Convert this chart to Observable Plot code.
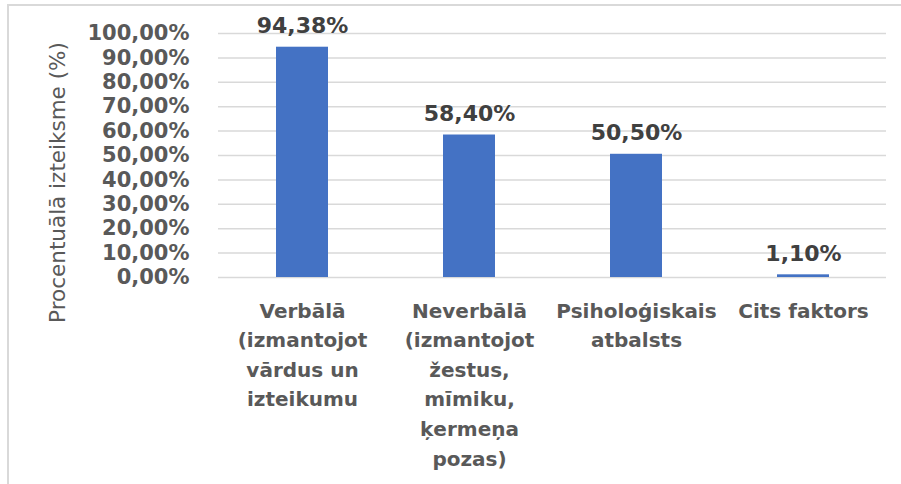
<!DOCTYPE html>
<html>
<head>
<meta charset="utf-8">
<script src="https://cdn.jsdelivr.net/npm/d3@7"></script>
<script src="https://cdn.jsdelivr.net/npm/@observablehq/plot@0.6"></script>
<style>
  html, body { margin: 0; padding: 0; background: #fff; overflow: hidden; }
  #wrap { position: relative; width: 901px; height: 484px; }
  #frame { position: absolute; left: 7px; top: 4px; width: 1000px; height: 1000px;
           border-left: 2px solid #d9d9d9; border-top: 2px solid #d9d9d9; }
  #chart { position: absolute; left: 0; top: 0; }
</style>
</head>
<body>
<div id="wrap"><div id="frame"></div><div id="chart"></div></div>
<script>
const categories = [
  "Verbālā\n(izmantojot\nvārdus un\nizteikumu",
  "Neverbālā\n(izmantojot\nžestus,\nmīmiku,\nķermeņa\npozas)",
  "Psiholoģiskais\natbalsts",
  "Cits faktors"
];
const values = [94.38, 58.40, 50.50, 1.10];
const yTicks = [0, 10, 20, 30, 40, 50, 60, 70, 80, 90, 100];
const yTitle = "Procentuālā izteiksme (%)";

const lv = d3.formatLocale({decimal: ",", thousands: " ", grouping: [3], currency: ["", "€"]});
const fmt = d => lv.format(".2f")(d) + "%";

const data = categories.map((c, i) => ({category: c, value: values[i]}));
const font = "DejaVu Sans, sans-serif";

const chart = Plot.plot({
  width: 901,
  height: 484,
  marginLeft: 218,
  marginRight: 15,
  marginTop: 33,
  marginBottom: 207,
  style: {fontFamily: font, background: "transparent"},
  x: {domain: categories, paddingInner: 0.69, paddingOuter: 0.345, label: null},
  y: {domain: [0, 100], label: null},
  marks: [
    Plot.ruleY(yTicks, {stroke: "#d9d9d9", strokeWidth: 1.5}),
    Plot.barY(data, {x: "category", y: "value", fill: "#4472c4"}),
    Plot.text(data, {x: "category", y: "value", text: d => fmt(d.value), dy: -21,
      fill: "#404040", fontSize: 22, fontWeight: "bold"}),
    Plot.axisY({ticks: yTicks, tickFormat: fmt, tickSize: 0, tickPadding: 29,
      fontSize: 21, fontWeight: "bold", fill: "#595959", label: null}),
    Plot.axisX({tickSize: 0, tickPadding: 19, fontSize: 20, fontWeight: "bold",
      fill: "#595959", lineHeight: 1.48, label: null}),
    Plot.text([yTitle], {frameAnchor: "left", dx: -160, dy: 27, rotate: -90,
      textAnchor: "middle", fontSize: 21.5, fill: "#595959"})
  ]
});
document.getElementById("chart").appendChild(chart);
</script>
</body>
</html>
